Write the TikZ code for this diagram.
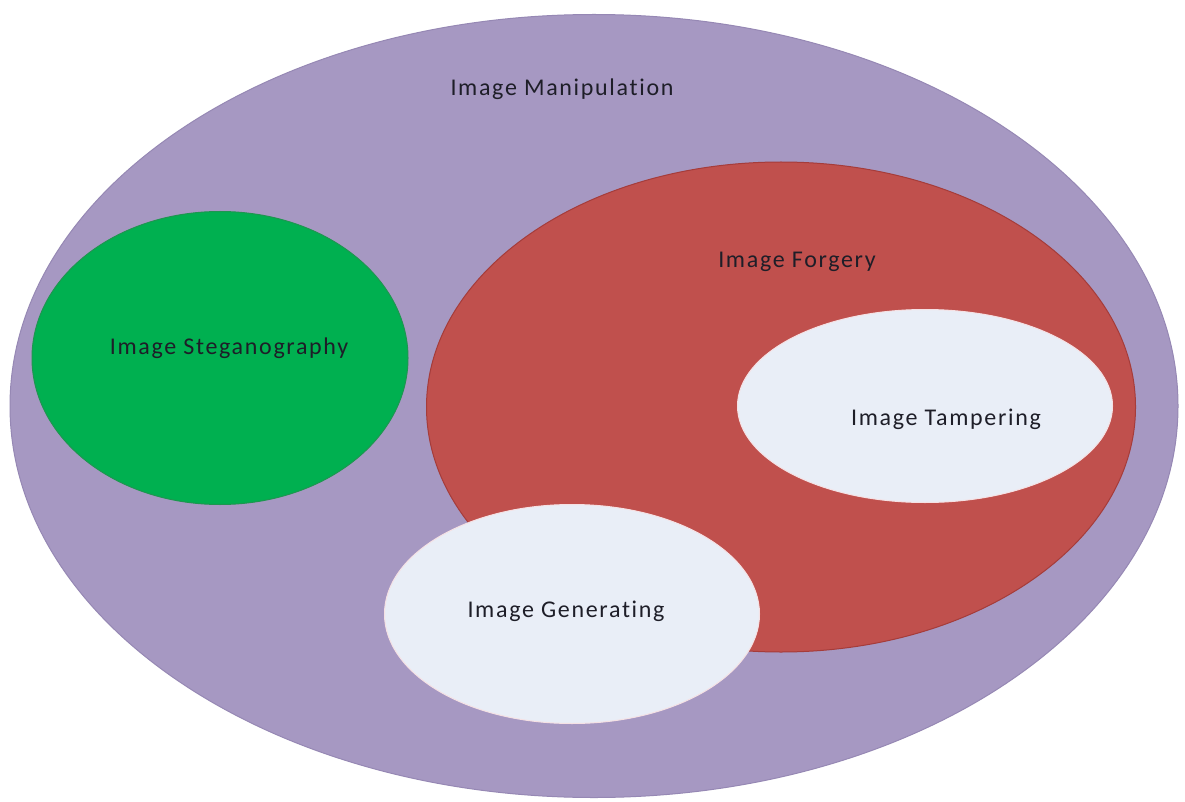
\documentclass[tikz,border=0pt]{standalone}
\usepackage{fontspec}
\setmainfont[LetterSpace=7,Ligatures=NoCommon]{Carlito}
\usetikzlibrary{shapes.geometric}
\definecolor{purp}{RGB}{166,152,194}
\definecolor{purpd}{RGB}{150,136,180}
\definecolor{redf}{RGB}{192,80,77}
\definecolor{redd}{RGB}{165,60,58}
\definecolor{greenf}{RGB}{0,176,80}
\definecolor{greend}{RGB}{30,150,80}
\definecolor{palef}{RGB}{233,238,247}
\definecolor{paled}{RGB}{245,225,228}
\definecolor{txt}{RGB}{30,30,40}
\tikzset{
  blob/.style={ellipse, inner sep=0pt, line width=1pt},
  lbl/.style={font=\fontsize{24}{28}\selectfont, text=txt, inner sep=0pt},
}
\begin{document}
\begin{tikzpicture}[x=1pt,y=-1pt]
\useasboundingbox[fill=white] (0,0) rectangle (1185,802);
\node[blob, fill=purp, draw=purpd, minimum width=1168pt, minimum height=783pt] (manip) at (594,406) {};
\node[blob, fill=greenf, draw=greend, minimum width=376pt, minimum height=293pt] (steg) at (220,358) {};
\node[blob, fill=redf, draw=redd, minimum width=709pt, minimum height=490pt] (forg) at (781,407) {};
\node[blob, fill=palef, draw=paled, minimum width=375pt, minimum height=193pt] (tamp) at (925,406) {};
\node[blob, fill=palef, draw=paled, minimum width=375pt, minimum height=219pt] (gen) at (572,614) {};
\node[lbl] (tmanip) at (562,89) {Image Manipulation};
\node[lbl] (tforg) at (797,262) {Image Forgery};
\node[lbl] (tsteg) at (229,348) {Image Steganography};
\node[lbl] (ttamp) at (946,419) {Image Tampering};
\node[lbl] (tgen) at (566,611) {Image Generating};
\end{tikzpicture}
\end{document}
